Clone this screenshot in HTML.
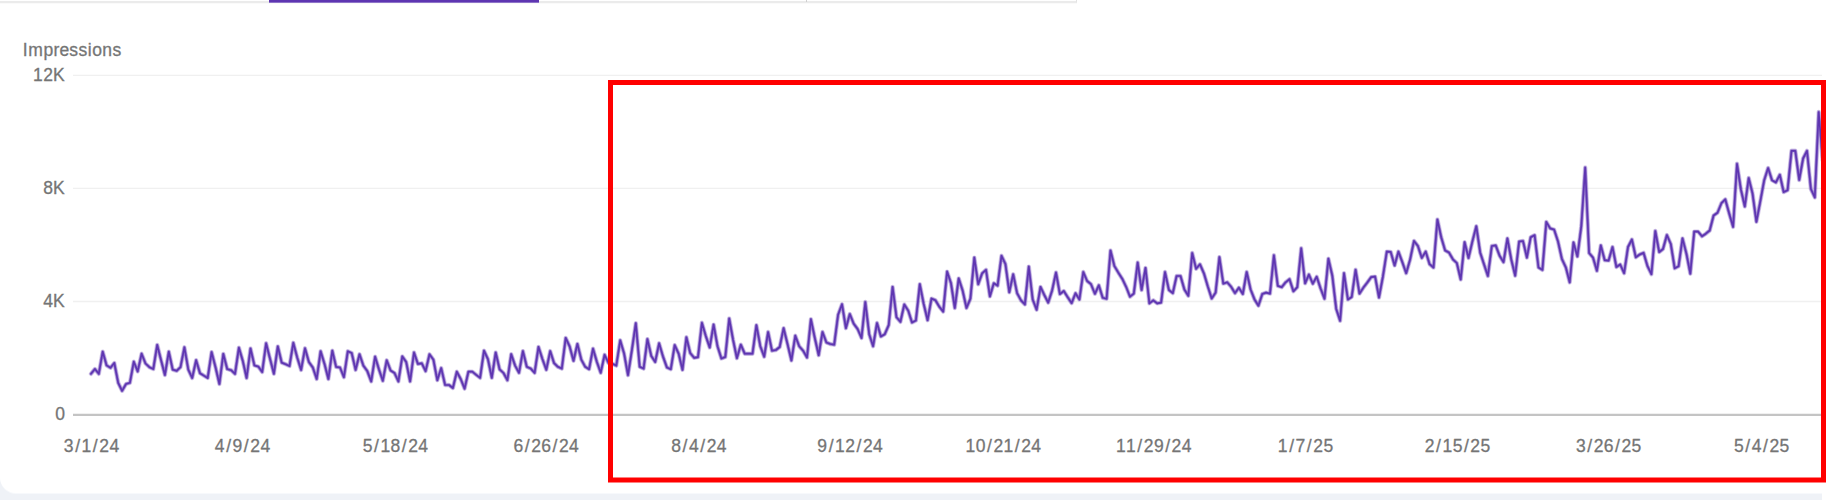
<!DOCTYPE html>
<html lang="en">
<head>
<meta charset="utf-8">
<title>Impressions</title>
<style>
html,body{margin:0;padding:0}
body{width:1826px;height:500px;overflow:hidden;background:#fff;position:relative;font-family:"Liberation Sans",sans-serif}
.pagebg{position:absolute;left:0;top:0;width:1822px;height:500px;background:#eff2f7}
.card{position:absolute;left:0;top:0;width:1822px;height:493px;background:#fff;border-bottom-left-radius:16px;box-shadow:0 1px 0 #f7f9fc}
.tabline{position:absolute;left:0;top:-10px;width:1076px;height:11px;border-bottom:2px solid #ebebeb;border-right:1px solid #e2e2e2;box-shadow:0 1px 0 #fafafa}
.tabsel{position:absolute;left:268.5px;top:0;width:270px;height:2px;background:#5e35b1;border-bottom:1px solid #8e73c9}
.tabsep{position:absolute;left:806px;top:0;width:1px;height:2px;background:#cfcfcf}
svg{position:absolute;left:0;top:0}
svg text{font-family:"Liberation Sans",sans-serif;font-size:17.5px;fill:#757575;stroke:#757575;stroke-width:0.3px}
</style>
</head>
<body>
<div class="pagebg"></div>
<div class="card"></div>
<div class="tabline"></div>
<div class="tabsep"></div>
<div class="tabsel"></div>
<svg width="1826" height="500" viewBox="0 0 1826 500">
<g stroke="#f0f0f0" stroke-width="1.4">
<line x1="73" y1="75.4" x2="1822" y2="75.4"/>
<line x1="73" y1="188.4" x2="1822" y2="188.4"/>
<line x1="73" y1="301.5" x2="1822" y2="301.5"/>
</g>
<line x1="73" y1="414.9" x2="1822" y2="414.9" stroke="#c4c4c4" stroke-width="2.2"/>
<text y="56" x="22.72 28.16 43.49 53.54 59.40 69.30 78.58 87.84 92.23 102.33 112.43">Impressions</text>
<text y="81" x="33.09 43.19 52.92">12K</text>
<text y="194" x="43.19 52.92">8K</text>
<text y="307" x="43.19 52.92">4K</text>
<text y="420" x="55.18">0</text>
<text y="451.6" x="63.87 75.16 81.58 92.87 99.29 109.40">3/1/24</text>
<text y="451.6" x="214.87 226.16 232.58 243.87 250.29 260.40">4/9/24</text>
<text y="451.6" x="362.72 374.01 380.43 390.53 401.82 408.24 418.35">5/18/24</text>
<text y="451.6" x="513.47 524.76 531.18 541.28 552.57 558.99 569.10">6/26/24</text>
<text y="451.6" x="671.32 682.61 689.03 700.32 706.74 716.85">8/4/24</text>
<text y="451.6" x="817.37 828.66 835.08 845.18 856.47 862.89 873.00">9/12/24</text>
<text y="451.6" x="965.61 975.72 987.01 993.43 1003.54 1014.83 1021.25 1031.35">10/21/24</text>
<text y="451.6" x="1115.96 1126.07 1137.36 1143.78 1153.89 1165.18 1171.60 1181.70">11/29/24</text>
<text y="451.6" x="1277.87 1289.16 1295.58 1306.87 1313.29 1323.40">1/7/25</text>
<text y="451.6" x="1424.82 1436.11 1442.53 1452.63 1463.92 1470.34 1480.45">2/15/25</text>
<text y="451.6" x="1575.92 1587.21 1593.63 1603.73 1615.02 1621.44 1631.55">3/26/25</text>
<text y="451.6" x="1734.02 1745.31 1751.73 1763.02 1769.44 1779.55">5/4/25</text>
<g fill="none" stroke="#5e35b1" stroke-linejoin="round" stroke-linecap="round">
<polyline stroke-width="4.4" stroke-opacity="0.25" points="91.0,373.8 94.9,369.0 98.8,373.8 102.7,351.7 106.6,365.4 110.5,367.8 114.3,363.0 118.2,382.8 122.1,390.8 126.0,384.0 129.9,382.8 133.8,361.7 137.7,371.4 141.6,353.7 145.5,363.5 149.4,367.2 153.3,369.0 157.2,344.9 161.0,360.0 164.9,375.0 168.8,351.7 172.7,369.6 176.6,370.8 180.5,367.2 184.4,347.3 188.3,369.6 192.2,378.0 196.1,360.2 200.0,373.2 203.8,375.6 207.7,378.0 211.6,352.1 215.5,367.2 219.4,384.0 223.3,353.9 227.2,369.0 231.1,370.2 235.0,373.8 238.9,347.7 242.8,361.0 246.6,378.0 250.5,348.5 254.4,365.4 258.3,366.6 262.2,372.0 266.1,343.3 270.0,358.7 273.9,373.8 277.8,346.4 281.7,362.6 285.6,364.2 289.5,366.0 293.3,342.8 297.2,357.5 301.1,370.0 305.0,348.3 308.9,362.1 312.8,367.5 316.7,379.0 320.6,351.3 324.5,363.9 328.4,379.0 332.3,350.7 336.1,366.9 340.0,367.5 343.9,377.2 347.8,351.3 351.7,353.1 355.6,369.9 359.5,354.3 363.4,365.7 367.3,371.1 371.2,381.4 375.1,356.7 378.9,369.3 382.8,380.8 386.7,360.3 390.6,370.5 394.5,373.0 398.4,381.4 402.3,356.4 406.2,362.1 410.1,381.4 414.0,352.5 417.9,363.9 421.8,363.3 425.6,371.1 429.5,354.3 433.4,359.7 437.3,380.2 441.2,368.1 445.1,385.0 449.0,385.0 452.9,388.0 456.8,371.7 460.7,379.0 464.6,388.6 468.4,371.7 472.3,371.7 476.2,374.8 480.1,377.8 484.0,350.7 487.9,359.1 491.8,377.8 495.7,352.5 499.6,369.3 503.5,373.0 507.4,380.2 511.2,354.2 515.1,365.6 519.0,372.8 522.9,351.1 526.8,366.8 530.7,368.6 534.6,372.8 538.5,346.9 542.4,359.0 546.3,369.8 550.2,351.1 554.1,363.2 557.9,366.8 561.8,368.6 565.7,337.9 569.6,346.3 573.5,360.8 577.4,343.9 581.3,359.6 585.2,366.8 589.1,369.2 593.0,348.7 596.9,362.0 600.7,372.8 604.6,354.8 608.5,363.0 612.4,363.8 616.3,365.6 620.2,340.3 624.1,353.6 628.0,375.2 631.9,350.0 635.8,323.2 639.7,366.8 643.6,368.6 647.4,339.1 651.3,356.0 655.2,362.0 659.1,343.3 663.0,356.6 666.9,367.4 670.8,369.2 674.7,345.1 678.6,353.6 682.5,369.8 686.4,337.3 690.2,353.0 694.1,357.8 698.0,357.2 701.9,322.8 705.8,336.1 709.7,347.5 713.6,324.6 717.5,346.2 721.4,358.5 725.3,357.0 729.2,318.5 733.0,339.5 736.9,358.2 740.8,344.7 744.7,353.7 748.6,353.7 752.5,353.7 756.4,325.2 760.3,346.2 764.2,356.7 768.1,332.0 772.0,350.7 775.9,350.0 779.7,347.0 783.6,328.2 787.5,344.0 791.4,360.5 795.3,335.7 799.2,346.2 803.1,350.7 807.0,357.5 810.9,319.2 814.8,338.0 818.7,355.2 822.5,332.0 826.4,342.5 830.3,344.0 834.2,344.7 838.1,314.7 842.0,304.2 845.9,328.2 849.8,314.0 853.7,323.7 857.6,329.0 861.5,338.0 865.3,302.0 869.2,334.2 873.1,346.2 877.0,323.0 880.9,336.5 884.8,334.2 888.7,325.2 892.6,286.9 896.5,317.3 900.4,321.8 904.3,304.5 908.2,310.6 912.0,322.5 915.9,320.5 919.8,284.2 923.7,304.0 927.6,320.2 931.5,298.6 935.4,300.2 939.3,306.7 943.2,311.6 947.1,271.6 951.0,283.3 954.8,308.0 958.7,278.4 962.6,290.5 966.5,308.0 970.4,298.6 974.3,257.6 978.2,284.2 982.1,273.4 986.0,269.8 989.9,296.4 993.8,283.3 997.6,285.6 1001.5,255.8 1005.4,264.0 1009.3,292.3 1013.2,274.3 1017.1,293.2 1021.0,300.4 1024.9,304.4 1028.8,266.6 1032.7,299.5 1036.6,309.8 1040.5,286.9 1044.3,295.0 1048.2,302.6 1052.1,290.5 1056.0,272.5 1059.9,294.1 1063.8,291.0 1067.7,297.2 1071.6,303.1 1075.5,293.2 1079.4,299.5 1083.3,272.0 1087.1,281.0 1091.0,284.2 1094.9,293.8 1098.8,285.3 1102.7,297.8 1106.6,298.8 1110.5,250.5 1114.4,266.1 1118.3,272.6 1122.2,278.7 1126.1,286.8 1130.0,296.7 1133.8,293.6 1137.7,262.5 1141.6,290.0 1145.5,267.9 1149.4,303.4 1153.3,300.3 1157.2,303.4 1161.1,302.6 1165.0,272.0 1168.9,290.0 1172.8,293.1 1176.6,276.0 1180.5,276.0 1184.4,289.5 1188.3,295.8 1192.2,253.0 1196.1,268.8 1200.0,264.3 1203.9,273.3 1207.8,286.4 1211.7,298.5 1215.6,292.6 1219.4,257.1 1223.3,283.6 1227.2,282.3 1231.1,286.8 1235.0,293.1 1238.9,287.7 1242.8,294.0 1246.7,272.0 1250.6,289.5 1254.5,299.4 1258.4,305.7 1262.3,294.0 1266.1,292.6 1270.0,293.6 1273.9,255.3 1277.8,285.9 1281.7,287.2 1285.6,282.3 1289.5,279.2 1293.4,291.3 1297.3,287.2 1301.2,248.3 1305.1,283.3 1308.9,274.6 1312.8,283.7 1316.7,276.7 1320.6,288.5 1324.5,298.7 1328.4,258.7 1332.3,275.7 1336.2,308.9 1340.1,320.8 1344.0,273.2 1347.9,299.5 1351.7,297.0 1355.6,269.8 1359.5,293.6 1363.4,287.6 1367.3,282.5 1371.2,277.1 1375.1,276.6 1379.0,297.5 1382.9,276.6 1386.8,251.6 1390.7,251.9 1394.6,265.5 1398.4,251.6 1402.3,262.1 1406.2,273.2 1410.1,259.6 1414.0,240.9 1417.9,246.0 1421.8,257.9 1425.7,251.6 1429.6,264.2 1433.5,267.5 1437.4,219.5 1441.2,237.2 1445.1,250.4 1449.0,252.6 1452.9,259.3 1456.8,263.0 1460.7,279.5 1464.6,242.2 1468.5,258.0 1472.4,241.4 1476.3,226.2 1480.2,252.7 1484.0,264.2 1487.9,276.0 1491.8,246.0 1495.7,245.4 1499.6,255.8 1503.5,262.1 1507.4,238.4 1511.3,259.7 1515.2,275.7 1519.1,241.6 1523.0,241.0 1526.9,257.6 1530.7,237.2 1534.6,235.2 1538.5,267.5 1542.4,269.9 1546.3,221.9 1550.2,228.4 1554.1,229.6 1558.0,241.4 1561.9,259.0 1565.8,267.3 1569.7,282.4 1573.5,242.4 1577.4,256.5 1581.3,226.2 1585.2,167.5 1589.1,253.0 1593.0,257.6 1596.9,270.8 1600.8,245.4 1604.7,260.2 1608.6,260.6 1612.5,247.0 1616.4,267.0 1620.2,264.5 1624.1,273.2 1628.0,247.0 1631.9,239.5 1635.8,257.3 1639.7,254.5 1643.6,252.9 1647.5,266.2 1651.4,274.2 1655.3,231.0 1659.2,252.1 1663.0,249.0 1666.9,235.0 1670.8,244.0 1674.7,268.3 1678.6,266.2 1682.5,238.4 1686.4,253.6 1690.3,273.7 1694.2,231.6 1698.1,231.6 1702.0,236.3 1705.8,233.7 1709.7,230.5 1713.6,215.5 1717.5,212.7 1721.4,203.2 1725.3,199.4 1729.2,213.6 1733.1,226.9 1737.0,163.8 1740.9,189.5 1744.8,206.5 1748.7,178.0 1752.5,193.4 1756.4,221.8 1760.3,201.3 1764.2,180.2 1768.1,168.0 1772.0,180.2 1775.9,182.4 1779.8,174.8 1783.7,192.1 1787.6,190.2 1791.5,150.8 1795.3,150.8 1799.2,180.0 1803.1,158.5 1807.0,150.8 1810.9,189.0 1814.8,197.4 1818.7,112.0 1822.6,160.0"/>
<polyline stroke-width="3.0" stroke-opacity="0.5" points="91.0,373.8 94.9,369.0 98.8,373.8 102.7,351.7 106.6,365.4 110.5,367.8 114.3,363.0 118.2,382.8 122.1,390.8 126.0,384.0 129.9,382.8 133.8,361.7 137.7,371.4 141.6,353.7 145.5,363.5 149.4,367.2 153.3,369.0 157.2,344.9 161.0,360.0 164.9,375.0 168.8,351.7 172.7,369.6 176.6,370.8 180.5,367.2 184.4,347.3 188.3,369.6 192.2,378.0 196.1,360.2 200.0,373.2 203.8,375.6 207.7,378.0 211.6,352.1 215.5,367.2 219.4,384.0 223.3,353.9 227.2,369.0 231.1,370.2 235.0,373.8 238.9,347.7 242.8,361.0 246.6,378.0 250.5,348.5 254.4,365.4 258.3,366.6 262.2,372.0 266.1,343.3 270.0,358.7 273.9,373.8 277.8,346.4 281.7,362.6 285.6,364.2 289.5,366.0 293.3,342.8 297.2,357.5 301.1,370.0 305.0,348.3 308.9,362.1 312.8,367.5 316.7,379.0 320.6,351.3 324.5,363.9 328.4,379.0 332.3,350.7 336.1,366.9 340.0,367.5 343.9,377.2 347.8,351.3 351.7,353.1 355.6,369.9 359.5,354.3 363.4,365.7 367.3,371.1 371.2,381.4 375.1,356.7 378.9,369.3 382.8,380.8 386.7,360.3 390.6,370.5 394.5,373.0 398.4,381.4 402.3,356.4 406.2,362.1 410.1,381.4 414.0,352.5 417.9,363.9 421.8,363.3 425.6,371.1 429.5,354.3 433.4,359.7 437.3,380.2 441.2,368.1 445.1,385.0 449.0,385.0 452.9,388.0 456.8,371.7 460.7,379.0 464.6,388.6 468.4,371.7 472.3,371.7 476.2,374.8 480.1,377.8 484.0,350.7 487.9,359.1 491.8,377.8 495.7,352.5 499.6,369.3 503.5,373.0 507.4,380.2 511.2,354.2 515.1,365.6 519.0,372.8 522.9,351.1 526.8,366.8 530.7,368.6 534.6,372.8 538.5,346.9 542.4,359.0 546.3,369.8 550.2,351.1 554.1,363.2 557.9,366.8 561.8,368.6 565.7,337.9 569.6,346.3 573.5,360.8 577.4,343.9 581.3,359.6 585.2,366.8 589.1,369.2 593.0,348.7 596.9,362.0 600.7,372.8 604.6,354.8 608.5,363.0 612.4,363.8 616.3,365.6 620.2,340.3 624.1,353.6 628.0,375.2 631.9,350.0 635.8,323.2 639.7,366.8 643.6,368.6 647.4,339.1 651.3,356.0 655.2,362.0 659.1,343.3 663.0,356.6 666.9,367.4 670.8,369.2 674.7,345.1 678.6,353.6 682.5,369.8 686.4,337.3 690.2,353.0 694.1,357.8 698.0,357.2 701.9,322.8 705.8,336.1 709.7,347.5 713.6,324.6 717.5,346.2 721.4,358.5 725.3,357.0 729.2,318.5 733.0,339.5 736.9,358.2 740.8,344.7 744.7,353.7 748.6,353.7 752.5,353.7 756.4,325.2 760.3,346.2 764.2,356.7 768.1,332.0 772.0,350.7 775.9,350.0 779.7,347.0 783.6,328.2 787.5,344.0 791.4,360.5 795.3,335.7 799.2,346.2 803.1,350.7 807.0,357.5 810.9,319.2 814.8,338.0 818.7,355.2 822.5,332.0 826.4,342.5 830.3,344.0 834.2,344.7 838.1,314.7 842.0,304.2 845.9,328.2 849.8,314.0 853.7,323.7 857.6,329.0 861.5,338.0 865.3,302.0 869.2,334.2 873.1,346.2 877.0,323.0 880.9,336.5 884.8,334.2 888.7,325.2 892.6,286.9 896.5,317.3 900.4,321.8 904.3,304.5 908.2,310.6 912.0,322.5 915.9,320.5 919.8,284.2 923.7,304.0 927.6,320.2 931.5,298.6 935.4,300.2 939.3,306.7 943.2,311.6 947.1,271.6 951.0,283.3 954.8,308.0 958.7,278.4 962.6,290.5 966.5,308.0 970.4,298.6 974.3,257.6 978.2,284.2 982.1,273.4 986.0,269.8 989.9,296.4 993.8,283.3 997.6,285.6 1001.5,255.8 1005.4,264.0 1009.3,292.3 1013.2,274.3 1017.1,293.2 1021.0,300.4 1024.9,304.4 1028.8,266.6 1032.7,299.5 1036.6,309.8 1040.5,286.9 1044.3,295.0 1048.2,302.6 1052.1,290.5 1056.0,272.5 1059.9,294.1 1063.8,291.0 1067.7,297.2 1071.6,303.1 1075.5,293.2 1079.4,299.5 1083.3,272.0 1087.1,281.0 1091.0,284.2 1094.9,293.8 1098.8,285.3 1102.7,297.8 1106.6,298.8 1110.5,250.5 1114.4,266.1 1118.3,272.6 1122.2,278.7 1126.1,286.8 1130.0,296.7 1133.8,293.6 1137.7,262.5 1141.6,290.0 1145.5,267.9 1149.4,303.4 1153.3,300.3 1157.2,303.4 1161.1,302.6 1165.0,272.0 1168.9,290.0 1172.8,293.1 1176.6,276.0 1180.5,276.0 1184.4,289.5 1188.3,295.8 1192.2,253.0 1196.1,268.8 1200.0,264.3 1203.9,273.3 1207.8,286.4 1211.7,298.5 1215.6,292.6 1219.4,257.1 1223.3,283.6 1227.2,282.3 1231.1,286.8 1235.0,293.1 1238.9,287.7 1242.8,294.0 1246.7,272.0 1250.6,289.5 1254.5,299.4 1258.4,305.7 1262.3,294.0 1266.1,292.6 1270.0,293.6 1273.9,255.3 1277.8,285.9 1281.7,287.2 1285.6,282.3 1289.5,279.2 1293.4,291.3 1297.3,287.2 1301.2,248.3 1305.1,283.3 1308.9,274.6 1312.8,283.7 1316.7,276.7 1320.6,288.5 1324.5,298.7 1328.4,258.7 1332.3,275.7 1336.2,308.9 1340.1,320.8 1344.0,273.2 1347.9,299.5 1351.7,297.0 1355.6,269.8 1359.5,293.6 1363.4,287.6 1367.3,282.5 1371.2,277.1 1375.1,276.6 1379.0,297.5 1382.9,276.6 1386.8,251.6 1390.7,251.9 1394.6,265.5 1398.4,251.6 1402.3,262.1 1406.2,273.2 1410.1,259.6 1414.0,240.9 1417.9,246.0 1421.8,257.9 1425.7,251.6 1429.6,264.2 1433.5,267.5 1437.4,219.5 1441.2,237.2 1445.1,250.4 1449.0,252.6 1452.9,259.3 1456.8,263.0 1460.7,279.5 1464.6,242.2 1468.5,258.0 1472.4,241.4 1476.3,226.2 1480.2,252.7 1484.0,264.2 1487.9,276.0 1491.8,246.0 1495.7,245.4 1499.6,255.8 1503.5,262.1 1507.4,238.4 1511.3,259.7 1515.2,275.7 1519.1,241.6 1523.0,241.0 1526.9,257.6 1530.7,237.2 1534.6,235.2 1538.5,267.5 1542.4,269.9 1546.3,221.9 1550.2,228.4 1554.1,229.6 1558.0,241.4 1561.9,259.0 1565.8,267.3 1569.7,282.4 1573.5,242.4 1577.4,256.5 1581.3,226.2 1585.2,167.5 1589.1,253.0 1593.0,257.6 1596.9,270.8 1600.8,245.4 1604.7,260.2 1608.6,260.6 1612.5,247.0 1616.4,267.0 1620.2,264.5 1624.1,273.2 1628.0,247.0 1631.9,239.5 1635.8,257.3 1639.7,254.5 1643.6,252.9 1647.5,266.2 1651.4,274.2 1655.3,231.0 1659.2,252.1 1663.0,249.0 1666.9,235.0 1670.8,244.0 1674.7,268.3 1678.6,266.2 1682.5,238.4 1686.4,253.6 1690.3,273.7 1694.2,231.6 1698.1,231.6 1702.0,236.3 1705.8,233.7 1709.7,230.5 1713.6,215.5 1717.5,212.7 1721.4,203.2 1725.3,199.4 1729.2,213.6 1733.1,226.9 1737.0,163.8 1740.9,189.5 1744.8,206.5 1748.7,178.0 1752.5,193.4 1756.4,221.8 1760.3,201.3 1764.2,180.2 1768.1,168.0 1772.0,180.2 1775.9,182.4 1779.8,174.8 1783.7,192.1 1787.6,190.2 1791.5,150.8 1795.3,150.8 1799.2,180.0 1803.1,158.5 1807.0,150.8 1810.9,189.0 1814.8,197.4 1818.7,112.0 1822.6,160.0"/>
<polyline stroke-width="1.7" stroke-opacity="1" points="91.0,373.8 94.9,369.0 98.8,373.8 102.7,351.7 106.6,365.4 110.5,367.8 114.3,363.0 118.2,382.8 122.1,390.8 126.0,384.0 129.9,382.8 133.8,361.7 137.7,371.4 141.6,353.7 145.5,363.5 149.4,367.2 153.3,369.0 157.2,344.9 161.0,360.0 164.9,375.0 168.8,351.7 172.7,369.6 176.6,370.8 180.5,367.2 184.4,347.3 188.3,369.6 192.2,378.0 196.1,360.2 200.0,373.2 203.8,375.6 207.7,378.0 211.6,352.1 215.5,367.2 219.4,384.0 223.3,353.9 227.2,369.0 231.1,370.2 235.0,373.8 238.9,347.7 242.8,361.0 246.6,378.0 250.5,348.5 254.4,365.4 258.3,366.6 262.2,372.0 266.1,343.3 270.0,358.7 273.9,373.8 277.8,346.4 281.7,362.6 285.6,364.2 289.5,366.0 293.3,342.8 297.2,357.5 301.1,370.0 305.0,348.3 308.9,362.1 312.8,367.5 316.7,379.0 320.6,351.3 324.5,363.9 328.4,379.0 332.3,350.7 336.1,366.9 340.0,367.5 343.9,377.2 347.8,351.3 351.7,353.1 355.6,369.9 359.5,354.3 363.4,365.7 367.3,371.1 371.2,381.4 375.1,356.7 378.9,369.3 382.8,380.8 386.7,360.3 390.6,370.5 394.5,373.0 398.4,381.4 402.3,356.4 406.2,362.1 410.1,381.4 414.0,352.5 417.9,363.9 421.8,363.3 425.6,371.1 429.5,354.3 433.4,359.7 437.3,380.2 441.2,368.1 445.1,385.0 449.0,385.0 452.9,388.0 456.8,371.7 460.7,379.0 464.6,388.6 468.4,371.7 472.3,371.7 476.2,374.8 480.1,377.8 484.0,350.7 487.9,359.1 491.8,377.8 495.7,352.5 499.6,369.3 503.5,373.0 507.4,380.2 511.2,354.2 515.1,365.6 519.0,372.8 522.9,351.1 526.8,366.8 530.7,368.6 534.6,372.8 538.5,346.9 542.4,359.0 546.3,369.8 550.2,351.1 554.1,363.2 557.9,366.8 561.8,368.6 565.7,337.9 569.6,346.3 573.5,360.8 577.4,343.9 581.3,359.6 585.2,366.8 589.1,369.2 593.0,348.7 596.9,362.0 600.7,372.8 604.6,354.8 608.5,363.0 612.4,363.8 616.3,365.6 620.2,340.3 624.1,353.6 628.0,375.2 631.9,350.0 635.8,323.2 639.7,366.8 643.6,368.6 647.4,339.1 651.3,356.0 655.2,362.0 659.1,343.3 663.0,356.6 666.9,367.4 670.8,369.2 674.7,345.1 678.6,353.6 682.5,369.8 686.4,337.3 690.2,353.0 694.1,357.8 698.0,357.2 701.9,322.8 705.8,336.1 709.7,347.5 713.6,324.6 717.5,346.2 721.4,358.5 725.3,357.0 729.2,318.5 733.0,339.5 736.9,358.2 740.8,344.7 744.7,353.7 748.6,353.7 752.5,353.7 756.4,325.2 760.3,346.2 764.2,356.7 768.1,332.0 772.0,350.7 775.9,350.0 779.7,347.0 783.6,328.2 787.5,344.0 791.4,360.5 795.3,335.7 799.2,346.2 803.1,350.7 807.0,357.5 810.9,319.2 814.8,338.0 818.7,355.2 822.5,332.0 826.4,342.5 830.3,344.0 834.2,344.7 838.1,314.7 842.0,304.2 845.9,328.2 849.8,314.0 853.7,323.7 857.6,329.0 861.5,338.0 865.3,302.0 869.2,334.2 873.1,346.2 877.0,323.0 880.9,336.5 884.8,334.2 888.7,325.2 892.6,286.9 896.5,317.3 900.4,321.8 904.3,304.5 908.2,310.6 912.0,322.5 915.9,320.5 919.8,284.2 923.7,304.0 927.6,320.2 931.5,298.6 935.4,300.2 939.3,306.7 943.2,311.6 947.1,271.6 951.0,283.3 954.8,308.0 958.7,278.4 962.6,290.5 966.5,308.0 970.4,298.6 974.3,257.6 978.2,284.2 982.1,273.4 986.0,269.8 989.9,296.4 993.8,283.3 997.6,285.6 1001.5,255.8 1005.4,264.0 1009.3,292.3 1013.2,274.3 1017.1,293.2 1021.0,300.4 1024.9,304.4 1028.8,266.6 1032.7,299.5 1036.6,309.8 1040.5,286.9 1044.3,295.0 1048.2,302.6 1052.1,290.5 1056.0,272.5 1059.9,294.1 1063.8,291.0 1067.7,297.2 1071.6,303.1 1075.5,293.2 1079.4,299.5 1083.3,272.0 1087.1,281.0 1091.0,284.2 1094.9,293.8 1098.8,285.3 1102.7,297.8 1106.6,298.8 1110.5,250.5 1114.4,266.1 1118.3,272.6 1122.2,278.7 1126.1,286.8 1130.0,296.7 1133.8,293.6 1137.7,262.5 1141.6,290.0 1145.5,267.9 1149.4,303.4 1153.3,300.3 1157.2,303.4 1161.1,302.6 1165.0,272.0 1168.9,290.0 1172.8,293.1 1176.6,276.0 1180.5,276.0 1184.4,289.5 1188.3,295.8 1192.2,253.0 1196.1,268.8 1200.0,264.3 1203.9,273.3 1207.8,286.4 1211.7,298.5 1215.6,292.6 1219.4,257.1 1223.3,283.6 1227.2,282.3 1231.1,286.8 1235.0,293.1 1238.9,287.7 1242.8,294.0 1246.7,272.0 1250.6,289.5 1254.5,299.4 1258.4,305.7 1262.3,294.0 1266.1,292.6 1270.0,293.6 1273.9,255.3 1277.8,285.9 1281.7,287.2 1285.6,282.3 1289.5,279.2 1293.4,291.3 1297.3,287.2 1301.2,248.3 1305.1,283.3 1308.9,274.6 1312.8,283.7 1316.7,276.7 1320.6,288.5 1324.5,298.7 1328.4,258.7 1332.3,275.7 1336.2,308.9 1340.1,320.8 1344.0,273.2 1347.9,299.5 1351.7,297.0 1355.6,269.8 1359.5,293.6 1363.4,287.6 1367.3,282.5 1371.2,277.1 1375.1,276.6 1379.0,297.5 1382.9,276.6 1386.8,251.6 1390.7,251.9 1394.6,265.5 1398.4,251.6 1402.3,262.1 1406.2,273.2 1410.1,259.6 1414.0,240.9 1417.9,246.0 1421.8,257.9 1425.7,251.6 1429.6,264.2 1433.5,267.5 1437.4,219.5 1441.2,237.2 1445.1,250.4 1449.0,252.6 1452.9,259.3 1456.8,263.0 1460.7,279.5 1464.6,242.2 1468.5,258.0 1472.4,241.4 1476.3,226.2 1480.2,252.7 1484.0,264.2 1487.9,276.0 1491.8,246.0 1495.7,245.4 1499.6,255.8 1503.5,262.1 1507.4,238.4 1511.3,259.7 1515.2,275.7 1519.1,241.6 1523.0,241.0 1526.9,257.6 1530.7,237.2 1534.6,235.2 1538.5,267.5 1542.4,269.9 1546.3,221.9 1550.2,228.4 1554.1,229.6 1558.0,241.4 1561.9,259.0 1565.8,267.3 1569.7,282.4 1573.5,242.4 1577.4,256.5 1581.3,226.2 1585.2,167.5 1589.1,253.0 1593.0,257.6 1596.9,270.8 1600.8,245.4 1604.7,260.2 1608.6,260.6 1612.5,247.0 1616.4,267.0 1620.2,264.5 1624.1,273.2 1628.0,247.0 1631.9,239.5 1635.8,257.3 1639.7,254.5 1643.6,252.9 1647.5,266.2 1651.4,274.2 1655.3,231.0 1659.2,252.1 1663.0,249.0 1666.9,235.0 1670.8,244.0 1674.7,268.3 1678.6,266.2 1682.5,238.4 1686.4,253.6 1690.3,273.7 1694.2,231.6 1698.1,231.6 1702.0,236.3 1705.8,233.7 1709.7,230.5 1713.6,215.5 1717.5,212.7 1721.4,203.2 1725.3,199.4 1729.2,213.6 1733.1,226.9 1737.0,163.8 1740.9,189.5 1744.8,206.5 1748.7,178.0 1752.5,193.4 1756.4,221.8 1760.3,201.3 1764.2,180.2 1768.1,168.0 1772.0,180.2 1775.9,182.4 1779.8,174.8 1783.7,192.1 1787.6,190.2 1791.5,150.8 1795.3,150.8 1799.2,180.0 1803.1,158.5 1807.0,150.8 1810.9,189.0 1814.8,197.4 1818.7,112.0 1822.6,160.0"/>
</g>
<rect x="610.5" y="82.5" width="1213" height="397.5" fill="none" stroke="#ff0000" stroke-width="5"/>
</svg>
</body>
</html>
